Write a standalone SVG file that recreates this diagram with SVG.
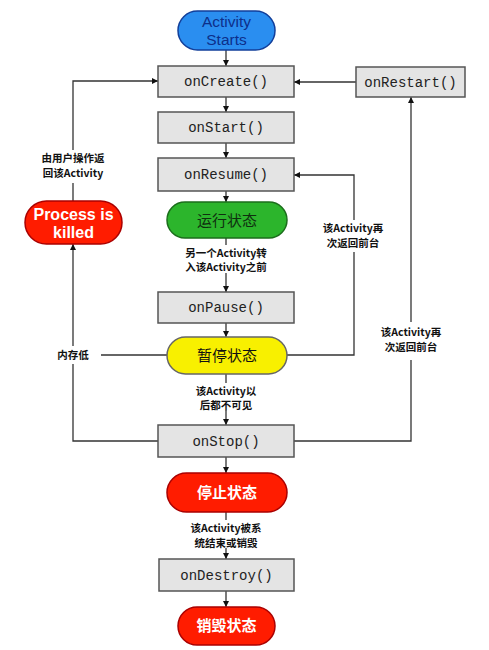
<svg xmlns="http://www.w3.org/2000/svg" width="489" height="650" viewBox="0 0 489 650">
<style>
.box{fill:#e4e4e4;stroke:#555;stroke-width:1.5}
.m{font-family:"Liberation Mono",monospace;font-size:14px;fill:#222;text-anchor:middle}
.lbl{font-family:"Noto Sans CJK SC",sans-serif;font-size:10.5px;font-weight:bold;fill:#111;text-anchor:middle}
.st{font-family:"Noto Sans CJK SC",sans-serif;font-size:15px;text-anchor:middle}
.ln{fill:none;stroke:#333;stroke-width:1.3}
</style>
<defs>
<marker id="ah" viewBox="0 0 10 10" refX="10" refY="5" markerWidth="6" markerHeight="6" orient="auto" markerUnits="userSpaceOnUse">
<path d="M0,0 L10,5 L0,10 z" fill="#111"/>
</marker>
</defs>
<rect width="489" height="650" fill="#fff"/>
<g id="connectors">
<path class="ln" d="M226,50 V66" marker-end="url(#ah)"/>
<path class="ln" d="M226,97 V112" marker-end="url(#ah)"/>
<path class="ln" d="M226,143 V158" marker-end="url(#ah)"/>
<path class="ln" d="M226,191 V202" marker-end="url(#ah)"/>
<path class="ln" d="M226,238 V245"/>
<path class="ln" d="M226,273 V292" marker-end="url(#ah)"/>
<path class="ln" d="M226,323 V337" marker-end="url(#ah)"/>
<path class="ln" d="M226,374 V383"/>
<path class="ln" d="M226,410 V425" marker-end="url(#ah)"/>
<path class="ln" d="M226,457 V473" marker-end="url(#ah)"/>
<path class="ln" d="M226,512 V520"/>
<path class="ln" d="M226,548 V559" marker-end="url(#ah)"/>
<path class="ln" d="M226,591 V607" marker-end="url(#ah)"/>
<path class="ln" d="M158,441 H73 V364"/>
<path class="ln" d="M73,346 V244" marker-end="url(#ah)"/>
<path class="ln" d="M167,355 H101"/>
<path class="ln" d="M73,201 V183"/>
<path class="ln" d="M73,150 V81 H158" marker-end="url(#ah)"/>
<path class="ln" d="M356,82 H294" marker-end="url(#ah)"/>
<path class="ln" d="M294,441 H411 V360"/>
<path class="ln" d="M411,322 V97" marker-end="url(#ah)"/>
<path class="ln" d="M287,355 H354 V252"/>
<path class="ln" d="M354,220 V175 H294" marker-end="url(#ah)"/>
</g>
<g id="labels">
<text class="lbl" x="73" y="162">由用户操作返</text>
<text class="lbl" x="73" y="177">回该Activity</text>
<text class="lbl" x="226" y="257">另一个Activity转</text>
<text class="lbl" x="226" y="271">入该Activity之前</text>
<text class="lbl" x="73" y="359">内存低</text>
<text class="lbl" x="226" y="395">该Activity以</text>
<text class="lbl" x="226" y="409">后都不可见</text>
<text class="lbl" x="226" y="532">该Activity被系</text>
<text class="lbl" x="226" y="547">统结束或销毁</text>
<text class="lbl" x="353" y="232">该Activity再</text>
<text class="lbl" x="353" y="247">次返回前台</text>
<text class="lbl" x="411" y="336">该Activity再</text>
<text class="lbl" x="411" y="351">次返回前台</text>
</g>
<g id="start">
<rect x="178" y="11" width="97" height="39" rx="19.5" fill="#2a8ef0" stroke="#123f9a" stroke-width="1.5"/>
<text x="226.5" y="27" fill="#0d2f8a" font-family="Liberation Sans,sans-serif" font-size="15.5" text-anchor="middle">Activity</text>
<text x="226.5" y="44.5" fill="#0d2f8a" font-family="Liberation Sans,sans-serif" font-size="15.5" text-anchor="middle">Starts</text>
</g>
<g id="onCreate"><rect class="box" x="158" y="66" width="136" height="31"/><text class="m" x="226" y="86">onCreate()</text></g>
<g id="onStart"><rect class="box" x="158" y="112" width="136" height="31"/><text class="m" x="226" y="132">onStart()</text></g>
<g id="onResume"><rect class="box" x="158" y="158" width="136" height="33"/><text class="m" x="226" y="179">onResume()</text></g>
<g id="onRestart"><rect class="box" x="356" y="67" width="109" height="30"/><text class="m" x="410.5" y="87">onRestart()</text></g>
<g id="running"><rect x="167" y="202" width="120" height="36" rx="18" fill="#2cb52c" stroke="#1b6e1b" stroke-width="1.5"/><text class="st" x="227" y="226" fill="#0f2f0f">运行状态</text></g>
<g id="killed"><rect x="25" y="201" width="97" height="43" rx="21.5" fill="#ff1c00" stroke="#a00" stroke-width="1.5"/><text x="73.5" y="220" fill="#fff" font-family="Liberation Sans,sans-serif" font-size="16" font-weight="bold" text-anchor="middle">Process is</text><text x="73.5" y="238" fill="#fff" font-family="Liberation Sans,sans-serif" font-size="16" font-weight="bold" text-anchor="middle">killed</text></g>
<g id="onPause"><rect class="box" x="158" y="292" width="136" height="31"/><text class="m" x="226" y="312">onPause()</text></g>
<g id="paused"><rect x="167" y="337" width="120" height="37" rx="18.5" fill="#f8f000" stroke="#666" stroke-width="1.5"/><text class="st" x="227" y="361" fill="#111">暂停状态</text></g>
<g id="onStop"><rect class="box" x="158" y="425" width="136" height="32"/><text class="m" x="226" y="446">onStop()</text></g>
<g id="stopped"><rect x="167" y="473" width="120" height="39" rx="19.5" fill="#ff1c00" stroke="#a00" stroke-width="1.5"/><text class="st" x="227" y="498" fill="#fff" font-weight="bold">停止状态</text></g>
<g id="onDestroy"><rect class="box" x="159" y="559" width="135" height="32"/><text class="m" x="226.5" y="580">onDestroy()</text></g>
<g id="destroyed"><rect x="178" y="607" width="97" height="38" rx="19" fill="#ff1c00" stroke="#a00" stroke-width="1.5"/><text class="st" x="226.5" y="631" fill="#fff" font-weight="bold">销毁状态</text></g>
</svg>
